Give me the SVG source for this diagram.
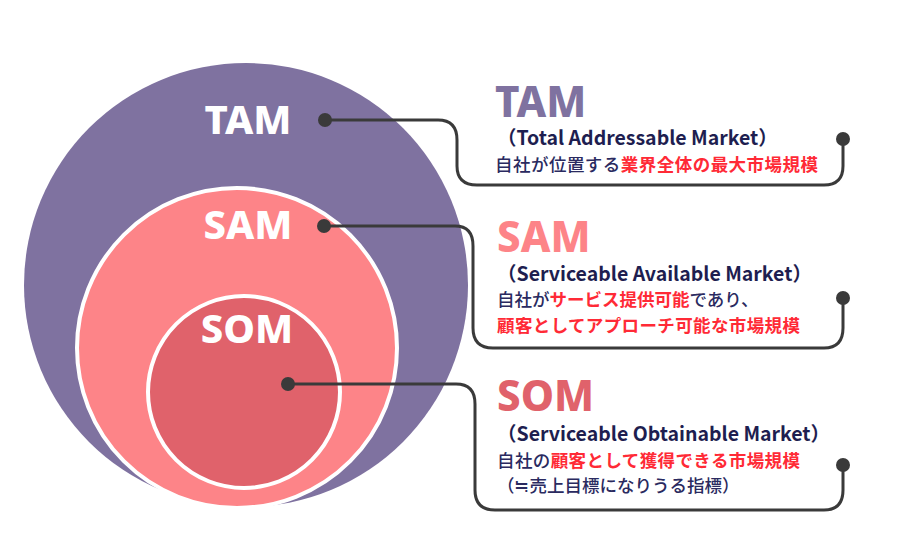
<svg xmlns="http://www.w3.org/2000/svg" width="900" height="542" viewBox="0 0 900 542">
<style>
.lbl{font-family:"Noto Sans","Open Sans",sans-serif;font-weight:800;fill:#fff;font-size:40px;text-anchor:middle}
.h{font-family:"Noto Sans","Open Sans",sans-serif;font-weight:800;font-size:42px}
.sub{font-family:"Noto Sans CJK JP",sans-serif;font-weight:700;font-size:19.5px;fill:#1e1e50}
.jp{font-family:"Noto Sans CJK JP",sans-serif;font-weight:500;font-size:17.5px;fill:#2a2a60}
.r{fill:#ff2a36;font-weight:700}
.ln{fill:none;stroke:#3a3a3a;stroke-width:3}
.dot{fill:#3a3a3a}
</style>
<rect width="900" height="542" fill="#fff"/>
<g id="tam"><circle cx="246" cy="285" r="222" fill="#7f72a0"/><text class="lbl" x="248" y="134">TAM</text></g>
<g id="sam"><circle cx="237" cy="348" r="160" fill="#fd8488" stroke="#fff" stroke-width="4"/><text class="lbl" x="248" y="239">SAM</text></g>
<g id="som"><circle cx="244" cy="392" r="96" fill="#e0626b" stroke="#fff" stroke-width="4"/><text class="lbl" x="247" y="343">SOM</text></g>
<g id="connectors">
<path class="ln" d="M325 120 H438 Q457 120 457 140 V166 Q457 185 477 185 H824 Q843 185 843 166 V140"/>
<path class="ln" d="M324 226 H455 Q473 226 473 246 V328 Q473 348 493 348 H824 Q843 348 843 328 V298"/>
<path class="ln" d="M288 384 H456 Q475 384 475 404 V490 Q475 510 495 510 H824 Q843 510 843 490 V465"/>
<circle class="dot" cx="325" cy="120" r="7"/><circle class="dot" cx="843" cy="139" r="7"/>
<circle class="dot" cx="324" cy="226" r="7"/><circle class="dot" cx="843" cy="298" r="7"/>
<circle class="dot" cx="288" cy="384" r="7"/><circle class="dot" cx="843" cy="465" r="7"/>
</g>
<g id="tam-text">
<text class="h" x="495" y="117" fill="#7f72a0">TAM</text>
<text class="sub" x="497" y="145">（Total Addressable Market）</text>
<text class="jp" x="495" y="171" textLength="323">自社が位置する<tspan class="r">業界全体の最大市場規模</tspan></text>
</g>
<g id="sam-text">
<text class="h" x="497" y="252" fill="#fd8488">SAM</text>
<text class="sub" x="497" y="281">（Serviceable Available Market）</text>
<text class="jp" x="497" y="306">自社が<tspan class="r">サービス提供可能</tspan>であり、</text>
<text class="jp r" x="497" y="332" textLength="303">顧客としてアプローチ可能な市場規模</text>
</g>
<g id="som-text">
<text class="h" x="497" y="411" fill="#e0626b">SOM</text>
<text class="sub" x="497" y="441">（Serviceable Obtainable Market）</text>
<text class="jp" x="497" y="467" textLength="303">自社の<tspan class="r">顧客として獲得できる市場規模</tspan></text>
<text class="jp" x="497" y="492">（≒売上目標になりうる指標）</text>
</g>
</svg>
